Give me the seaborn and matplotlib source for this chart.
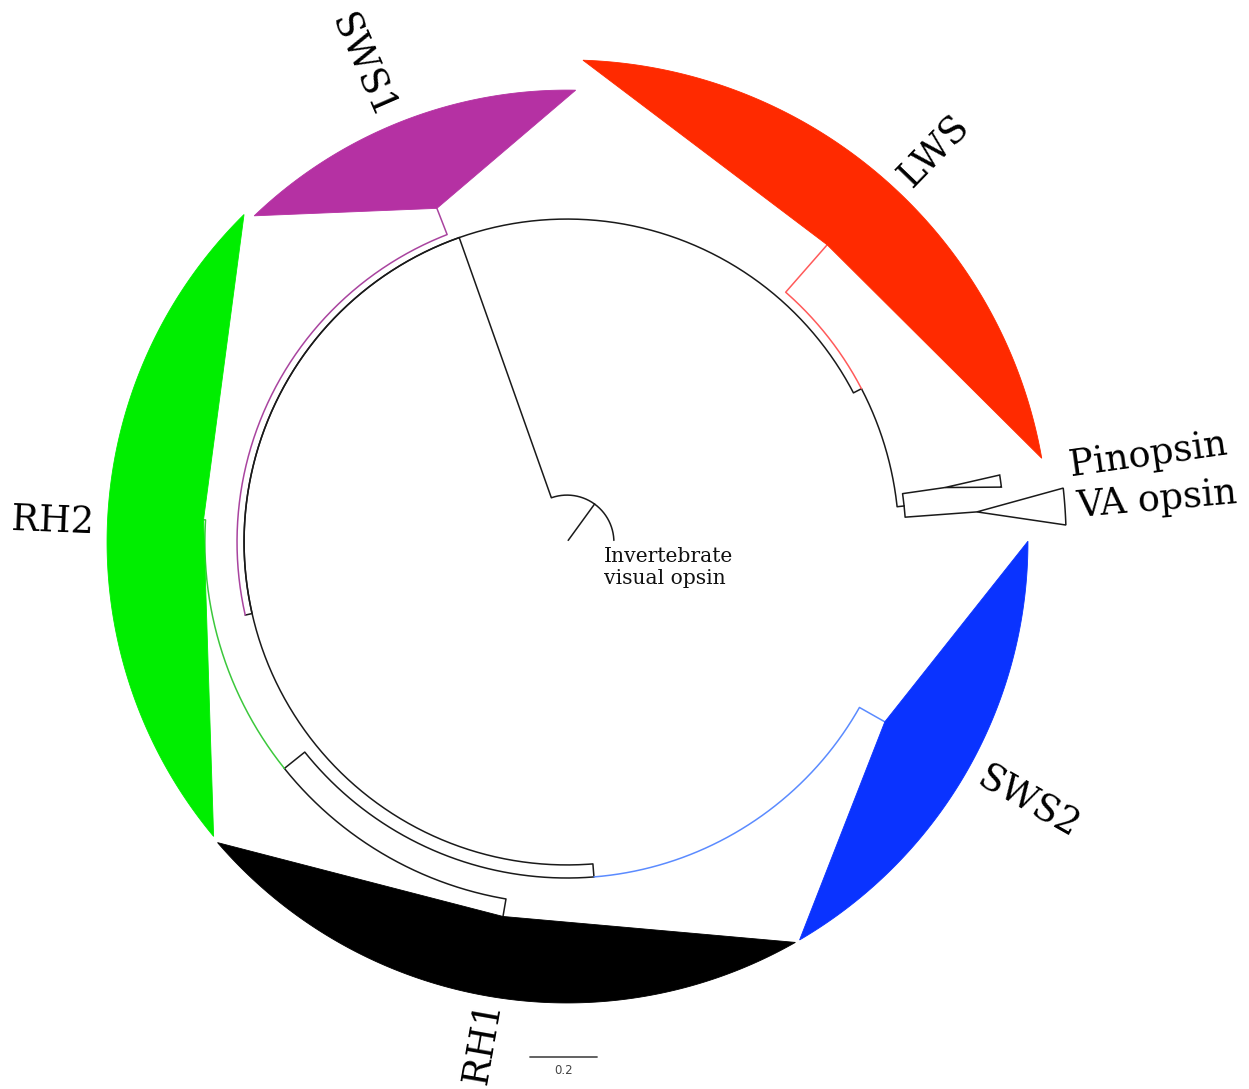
import numpy as np
import pandas as pd
import matplotlib
matplotlib.use("Agg")
import matplotlib.pyplot as plt
import seaborn as sns

# ---- tree (circular layout), depth in subst./site, angle in degrees ----
node_name   = ["root", "invert", "stub", "ingroup", "lws_pv", "pv", "pin", "va", "lws",
               "sws1_anc", "sws1", "rh_sws2", "sws2", "rh", "rh2", "rh1"]
node_parent = [None, "root", "root", "root", "ingroup", "lws_pv", "pv", "pv", "lws_pv",
               "ingroup", "sws1_anc", "ingroup", "rh_sws2", "rh_sws2", "rh", "rh"]
node_depth  = [0.140, 0.006, 0.140, 0.964, 0.991, 1.012, 1.140, 1.227, 1.179,
               0.985, 1.069, 1.003, 1.090, 1.081, 1.087, 1.134]
node_angle  = [54.0, 54.0, 2.0, 109.5, 27.5, 6.1, 8.2, 4.2, 48.8,
               192.8, 111.3, 274.6, 330.5, 218.7, 176.5, 260.3]
branch_col  = ["k", "k", "k", "k", "k", "k", "k", "k", "lws",
               "k", "sws1", "k", "sws2", "k", "rh2", "k"]

# collapsed clades
clade_label = ["LWS", "Pinopsin", "VA opsin", "SWS2", "RH1", "RH2", "SWS1"]
clade_node  = ["lws", "pin", "va", "sws2", "rh1", "rh2", "sws1"]
clade_from  = [88.1, 8.8, 6.2, 0.1, 220.7, 134.6, 88.9]
clade_to    = [10.0, 7.2, 1.95, -59.7, 299.7, 219.8, 133.8]
clade_tip   = [1.439, 1.307, 1.490, 1.376, 1.376, 1.373, 1.349]
clade_fill  = ["#FF2A00", "white", "white", "#0A33FF", "black", "#00EE00", "#B531A3"]

outgroup_label = "Invertebrate\nvisual opsin"
scale_value = 0.2

branch_palette = {"k": "#1a1a1a", "lws": "#FF5A5A", "sws1": "#A9449F",
                  "sws2": "#5B8BFF", "rh2": "#3CC83C"}

PX = 335.0  # pixels per subst./site


def polar(r, a):
    a = np.deg2rad(a)
    return r * np.cos(a), r * np.sin(a)


depth = dict(zip(node_name, node_depth))
angle = dict(zip(node_name, node_angle))

# branch segments: arc at parent's depth, then radial to child
rows = []
for i, (n, p) in enumerate(zip(node_name, node_parent)):
    if p is None:
        continue
    rp, rc = depth[p] * PX, depth[n] * PX
    arc = np.linspace(angle[p], angle[n], 200)
    xs, ys = polar(rp, arc)
    xr, yr = polar(np.array([rp, rc]), angle[n])
    xs = np.concatenate([xs, xr])
    ys = np.concatenate([ys, yr])
    for x, y in zip(xs, ys):
        rows.append((i, branch_col[i], x, y))
branches = pd.DataFrame(rows, columns=["seg", "col", "x", "y"])

sns.set_theme(style="white")
fig = plt.figure(figsize=(12.49, 10.89), dpi=100)
ax = fig.add_axes([0, 0, 1, 1])

sns.lineplot(data=branches, x="x", y="y", hue="col", units="seg", estimator=None,
             sort=False, palette=branch_palette, linewidth=1.1, legend=False, ax=ax)

# collapsed clade wedges
for lab, nd, a1, a2, tip, fc in zip(clade_label, clade_node, clade_from, clade_to,
                                    clade_tip, clade_fill):
    nx, ny = polar(depth[nd] * PX, angle[nd])
    ax_, ay_ = polar(tip * PX, np.linspace(a1, a2, 200))
    xs = np.concatenate([[nx], ax_, [nx]])
    ys = np.concatenate([[ny], ay_, [ny]])
    if fc == "white":
        ax.fill(xs, ys, facecolor="white", edgecolor="#1a1a1a", linewidth=1.1, zorder=3)
    else:
        ax.fill(xs, ys, facecolor=fc, edgecolor=fc, linewidth=0.6, zorder=3)

# clade labels (angle, radius px, rotation)
label_pos = {"LWS": (46.7, 536, 46), "Pinopsin": (8.5, 588, 8), "VA opsin": (4.1, 592, 5),
             "SWS2": (-29.5, 530, -29.5), "RH1": (260.5, 508, 80),
             "RH2": (177.7, 515, -2.3), "SWS1": (113.3, 518, -66.5)}
for lab in clade_label:
    a, r, rot = label_pos[lab]
    x, y = polar(r, a)
    ax.text(x, y, lab, fontsize=26.3, family="DejaVu Serif", rotation=rot,
            rotation_mode="anchor", ha="center", va="center", color="black")

ax.text(37, -26, outgroup_label, fontsize=14.6, family="DejaVu Serif", ha="left",
        va="center", linespacing=1.2, color="#111111")

# scale bar
sx0, sy = -37, -515
ax.plot([sx0, sx0 + scale_value * PX], [sy, sy], color="#555555", lw=1.3)
ax.text(sx0 + scale_value * PX / 2, sy - 14, f"{scale_value}", fontsize=8.5,
        family="DejaVu Sans", ha="center", va="center", color="#444444")

ax.set_xlim(-567, 682)
ax.set_ylim(-547, 542)
ax.set_axis_off()
fig.savefig("out.png", dpi=100, facecolor="white")
